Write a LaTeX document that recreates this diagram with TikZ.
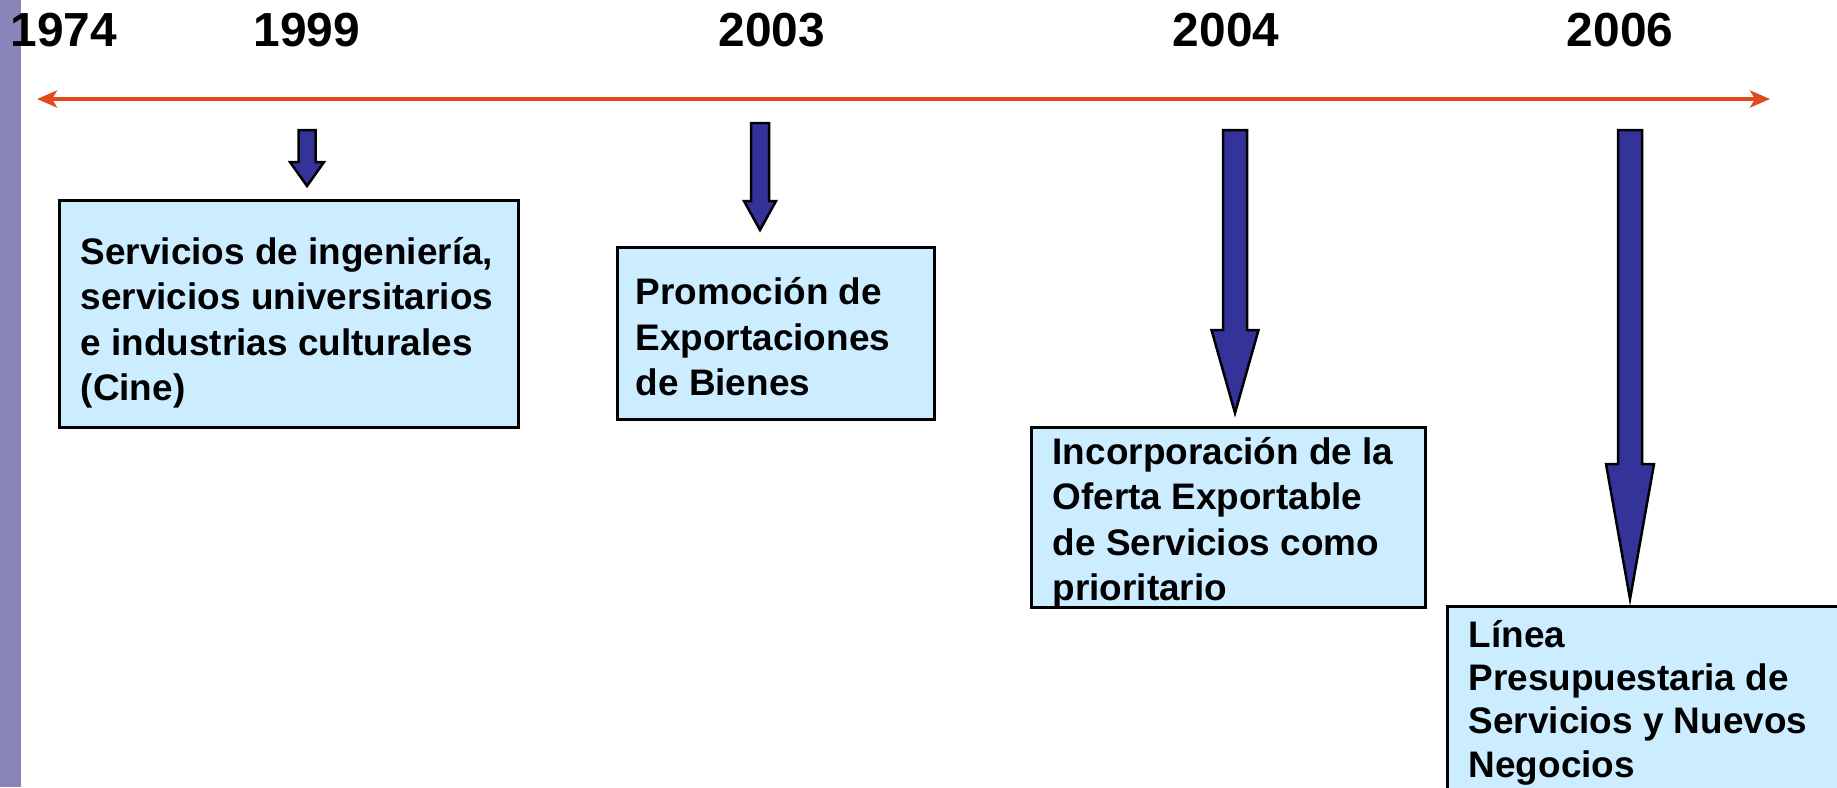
\documentclass[tikz,border=0pt]{standalone}
\usepackage{fontspec}
\setmainfont{Liberation Sans}
\usetikzlibrary{arrows.meta}
\definecolor{barpurple}{RGB}{137,133,187}
\definecolor{tlred}{RGB}{226,74,30}
\definecolor{arrblue}{RGB}{51,51,153}
\definecolor{boxblue}{RGB}{204,236,255}
\newcommand\blockarrow[6]{%
  \draw[blockarr] ({#1-#2},#3) -- ({#1+#2},#3) -- ({#1+#2},#4) -- ({#1+#5},#4)
    -- (#1,#6) -- ({#1-#5},#4) -- ({#1-#2},#4) -- cycle;}
\begin{document}
\begin{tikzpicture}[x=0.01cm,y=-0.01cm,
  yearlbl/.style={anchor=base,inner sep=0pt,font=\fontsize{13.6pt}{15pt}\selectfont\bfseries},
  boxtxt/.style={anchor=base west,inner sep=0pt,align=left,font=\fontsize{10.5pt}{12.8pt}\selectfont\bfseries},
  infobox/.style={draw=black,line width=0.03cm,fill=boxblue},
  blockarr/.style={draw=black,line width=0.025cm,fill=arrblue,line join=miter},
  timeline/.style={draw=tlred,line width=0.035cm,{Stealth[length=0.2cm,width=0.17cm,inset=0.05cm]}-{Stealth[length=0.2cm,width=0.17cm,inset=0.05cm]}}]
\useasboundingbox (0,0) rectangle (1837,787);
\fill[barpurple] (0,0) rectangle (21,787);
% years
\node[yearlbl] (y1974) at (64,46) {1974};
\node[yearlbl] (y1999) at (307,46) {1999};
\node[yearlbl] (y2003) at (772,46) {2003};
\node[yearlbl] (y2004) at (1226,46) {2004};
\node[yearlbl] (y2006) at (1620,46) {2006};
% timeline
\coordinate (tlL) at (37,99);
\coordinate (tlR) at (1770,99);
\draw[timeline] (tlL) -- (tlR);
% block arrows
\blockarrow{307}{8.5}{130}{162}{17}{186}
\blockarrow{760}{9}{123}{201}{16}{230}
\blockarrow{1235}{12}{130}{330}{23.5}{413}
\blockarrow{1630}{12}{130}{464}{24}{599}
% boxes
\draw[infobox] (59,200) rectangle (518,427);
\draw[infobox] (617,247) rectangle (934,419);
\draw[infobox] (1031,427) rectangle (1425,607);
\draw[infobox] (1447,606) rectangle (1860,810);
% texts (anchor = baseline of the last line)
\node[boxtxt] (t1) at (80,400) {Servicios de ingeniería,\\servicios universitarios\\e industrias culturales\\(Cine)};
\node[boxtxt] (t2) at (635,395) {Promoción de\\Exportaciones\\de Bienes};
\node[boxtxt] (t3) at (1052,600) {Incorporación de la\\Oferta Exportable\\de Servicios como\\prioritario};
\node[boxtxt,font=\fontsize{10.5pt}{12.25pt}\selectfont\bfseries] (t4) at (1468,777) {Línea\\Presupuestaria de\\Servicios y Nuevos\\Negocios};
\end{tikzpicture}
\end{document}
